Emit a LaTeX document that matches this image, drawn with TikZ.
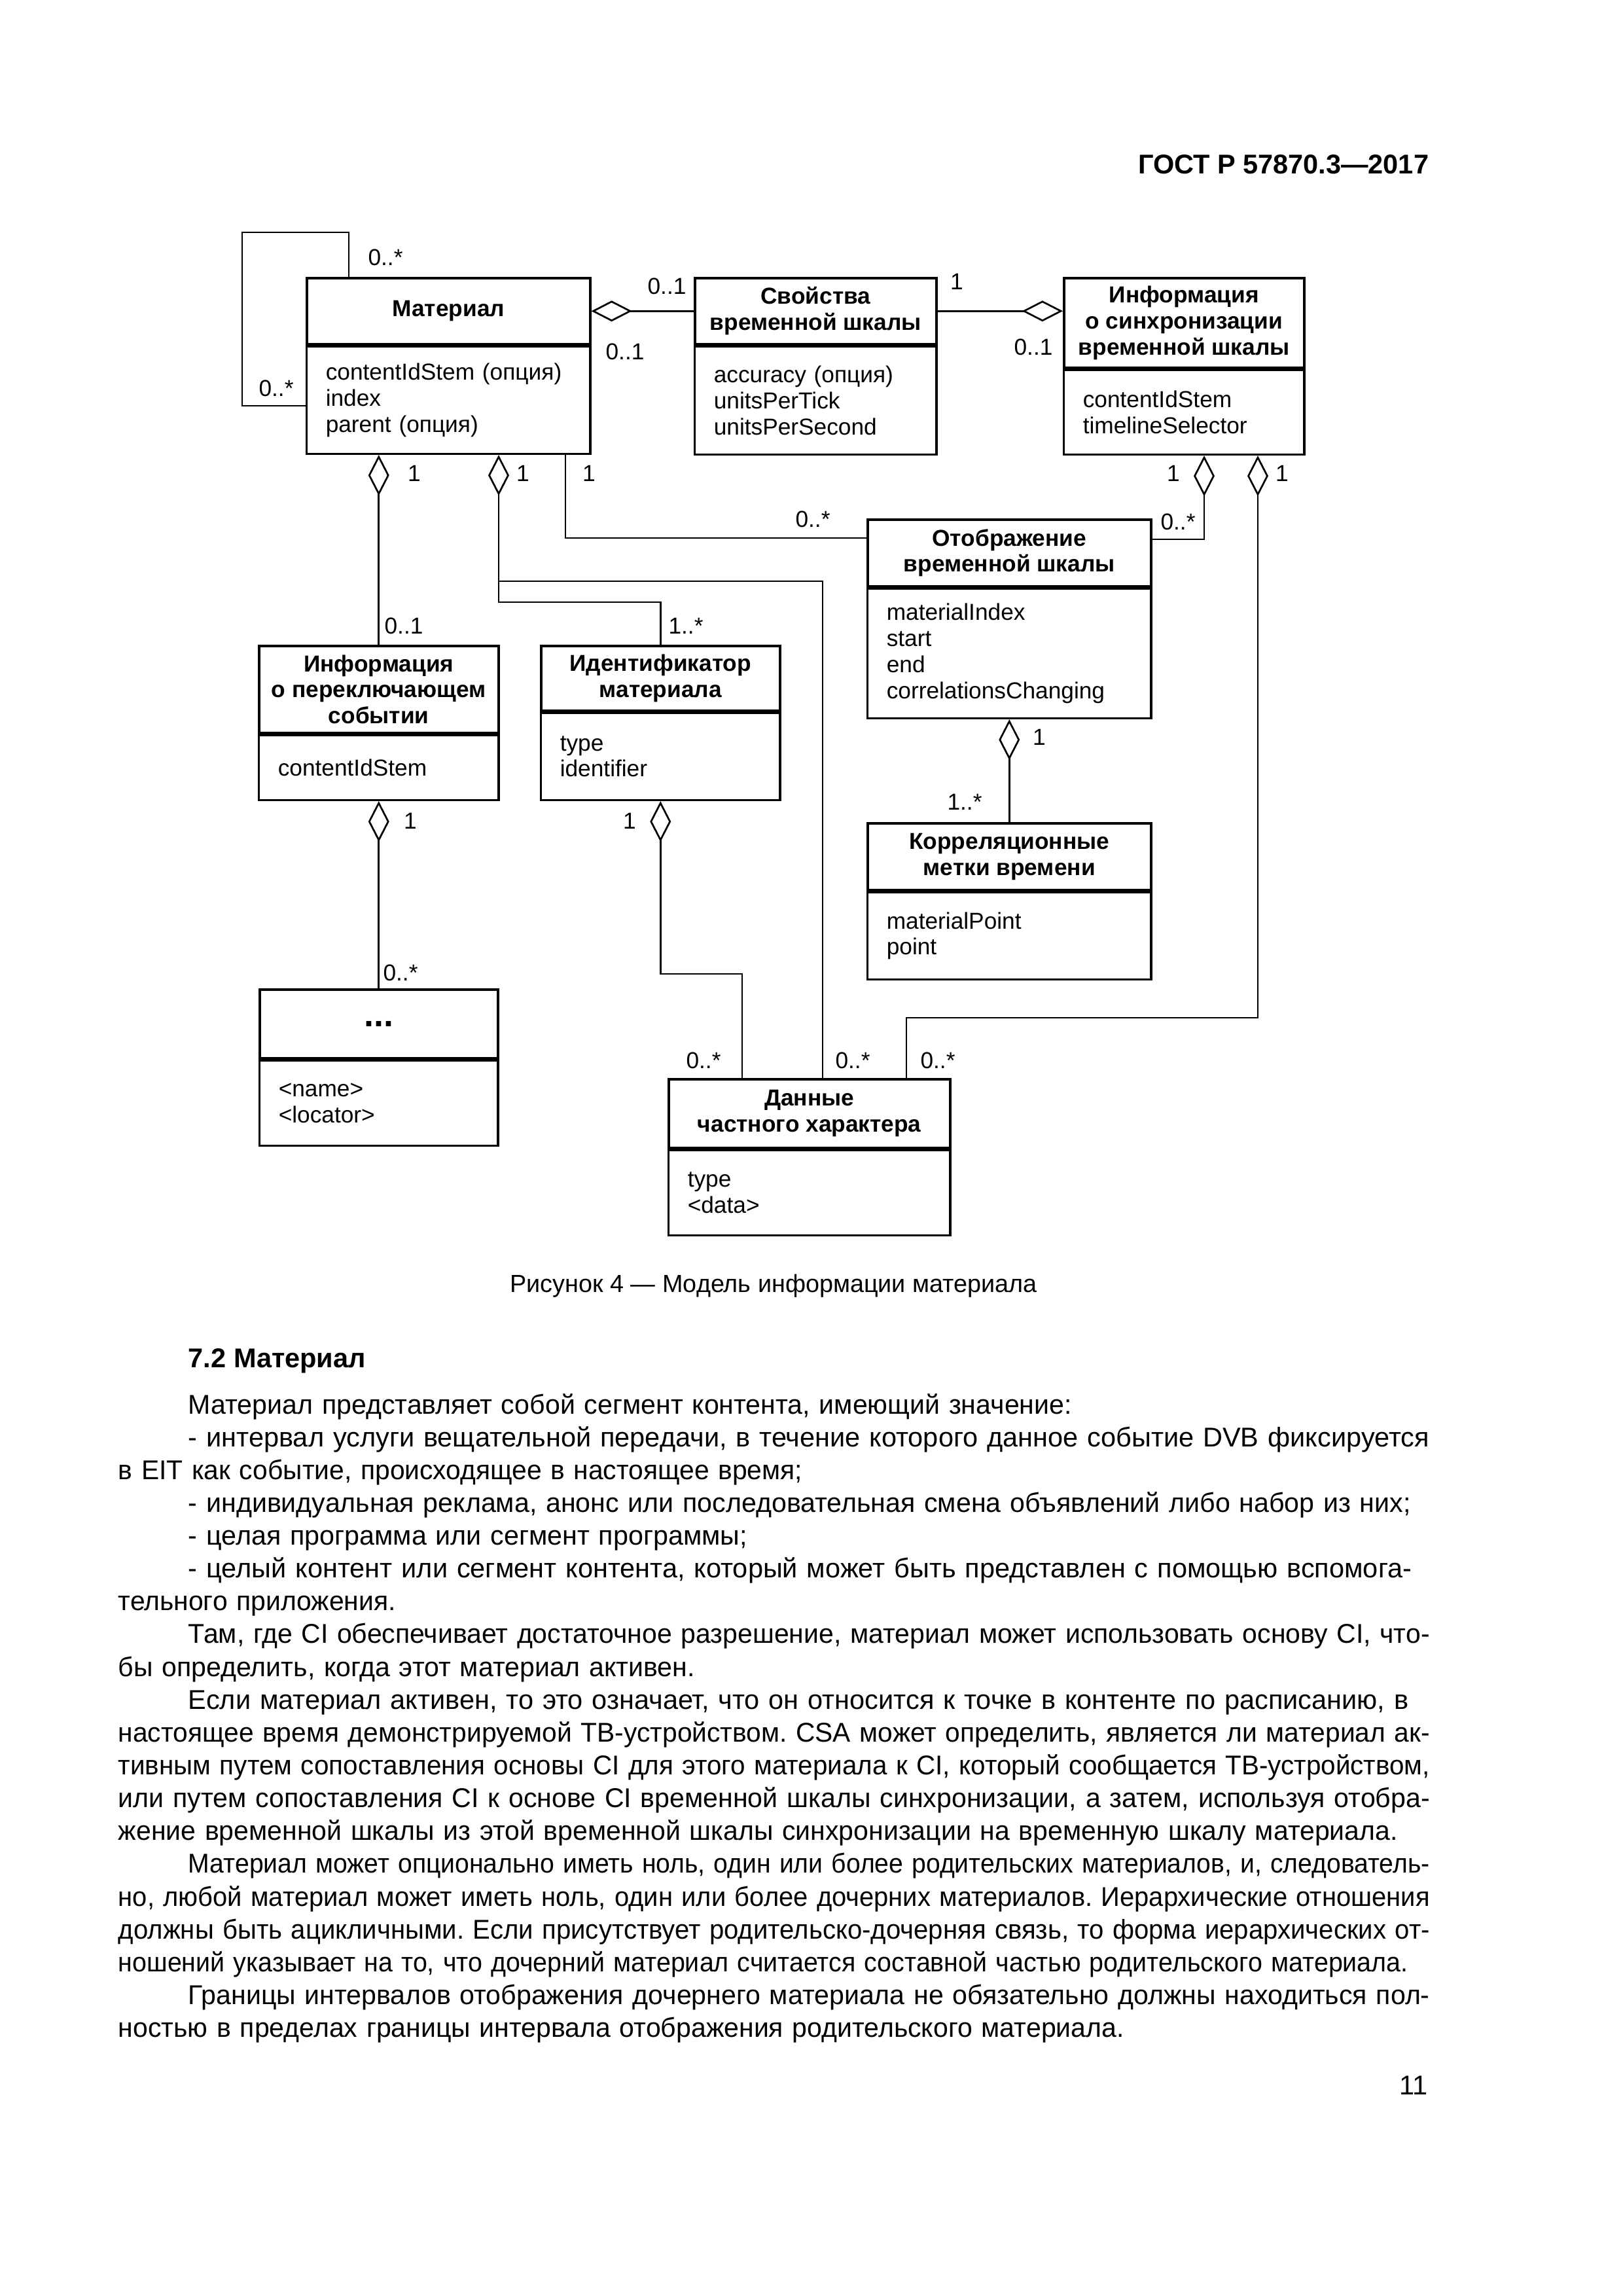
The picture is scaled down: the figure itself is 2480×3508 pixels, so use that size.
\documentclass[tikz,border=0pt]{standalone}
\usepackage{fontspec}
\usepackage{graphicx}
\setmainfont{Liberation Sans}
\usetikzlibrary{arrows.meta,positioning}
\frenchspacing

\newcommand\diafont{\fontsize{8.5}{9.6}\selectfont}
\newcommand\txtfont{\fontsize{10}{12.08}\selectfont}
\newlength\upx \setlength\upx{0.24093pt}
\newlength\bodyw \setlength\bodyw{482.8pt}
\newlength\bodyind \setlength\bodyind{25.8pt}
\newlength\linetarget
\newlength\linenat
\newsavebox\linebox
% one printed line of the body text, brought to the width it has on the page
% #1 indent, #2 right end of the line (px), #3 text
\newcommand\settline[3]{%
  \setlength\linetarget{\dimexpr\upx*\numexpr#2-180\relax-#1\relax}%
  \sbox\linebox{#3}\setlength\linenat{\wd\linebox}%
  \ifdim\linenat>\linetarget
    \pgfmathsetmacro\lineratio{\linetarget/\linenat}%
    \hbox to\bodyw{\hskip#1\scalebox{\lineratio}[1]{\usebox\linebox}\hss}%
  \else
    \hbox to\bodyw{\hskip#1\hbox to\linetarget{#3}\hss}%
  \fi\par}
\newcommand\tfirst{\settline{\bodyind}}
\newcommand\tline{\settline{0pt}}

\tikzset{
  clshead/.style 2 args={draw, line width=0.85pt, inner sep=0pt, anchor=north west,
    minimum width=#1*0.24093pt, minimum height=#2*0.24093pt,
    align=center, font=\diafont\bfseries},
  clsattr/.style 2 args={draw, line width=0.85pt, inner ysep=0pt, inner xsep=7pt,
    text width=(#1-58)*0.24093pt, minimum width=#1*0.24093pt,
    minimum height=#2*0.24093pt, align=left, font=\diafont},
  mult/.style={font=\diafont, inner sep=0pt},
  assoc/.style={line width=0.65pt},
  agg/.style={assoc, -{Diamond[open, length=15pt, width=7.7pt]}},
  pagetext/.style={inner sep=0pt, font=\txtfont},
}

\begin{document}
\begin{tikzpicture}[x=0.24093pt, y=-0.24093pt]
  \fill[white] (0,0) rectangle (2480,3508);
  \useasboundingbox (0,0) rectangle (2480,3508);

  \node[pagetext, font=\fontsize{10}{12}\selectfont\bfseries, anchor=base east] (gost)
    at (2184,265) {ГОСТ Р 57870.3—2017};

  % classes
  \node[clshead={433}{101}] (mat) at (467,423) {Материал};
  \node[clsattr={433}{164}, below=0pt of mat] (matA)
    {contentIdStem (опция)\\index\\parent (опция)};
  \node[clshead={369}{101}] (tsp) at (1060,423) {Свойства\\временной шкалы};
  \node[clsattr={369}{165}, below=0pt of tsp] (tspA)
    {accuracy (опция)\\unitsPerTick\\unitsPerSecond};
  \node[clshead={367}{137}] (tsi) at (1624,423)
    {Информация\\о синхронизации\\временной шкалы};
  \node[clsattr={367}{129}, below=0pt of tsi] (tsiA) {contentIdStem\\timelineSelector};
  \node[clshead={433}{102}] (tlm) at (1324,792) {Отображение\\временной шкалы};
  \node[clsattr={433}{198}, below=0pt of tlm] (tlmA)
    {materialIndex\\start\\end\\correlationsChanging};
  \node[clshead={433}{102}] (cts) at (1324,1256) {Корреляционные\\метки времени};
  \node[clsattr={433}{133}, below=0pt of cts] (ctsA) {materialPoint\\point};
  \node[clshead={366}{133}] (sei) at (394,985) {Информация\\о переключающем\\событии};
  \node[clsattr={366}{99}, below=0pt of sei] (seiA) {contentIdStem};
  \node[clshead={365}{99}] (mid) at (825,985) {Идентификатор\\материала};
  \node[clsattr={365}{133}, below=0pt of mid] (midA) {type\\identifier};
  \node[clshead={364}{105}, font=\fontsize{13}{13}\selectfont\bfseries] (ext)
    at (395,1510) {...};
  \node[clsattr={364}{130}, below=0pt of ext] (extA) {<name>\\<locator>};
  \node[clshead={430}{105}] (prv) at (1020,1647) {Данные\\частного характера};
  \node[clsattr={430}{130}, below=0pt of prv] (prvA) {type\\<data>};

  % bend points
  \coordinate (la) at (533,355);
  \coordinate (lb) at (370,620);
  \coordinate (jm) at (762,920);
  \coordinate (jb) at (1257,888);
  \coordinate (jt) at (864,822);
  \coordinate (js) at (1840,824);
  \coordinate (jq) at (1385,1555);
  \coordinate (jp) at (1922,1555);
  \coordinate (jd) at (1134,1488);

  % associations
  \draw[assoc] (la |- mat.north) -- (la) -| (lb) -- (lb -| matA.west);
  \draw[agg] (tsp.west) -- (mat.east);
  \draw[agg] (tsp.east) -- (tsp.east -| tsi.west);
  \draw[agg] (sei.north) -- (sei.north |- matA.south);
  \draw[agg] (mid.north) |- (jm) -- (jm |- matA.south);
  \draw[assoc] (jb |- prv.north) -- (jb) -- (jb -| jm);
  \draw[assoc] (jt |- matA.south) -- (jt) -- (jt -| tlm.west);
  \draw[agg] (tlm.east |- js) -- (js) -- (js |- tsiA.south);
  \draw[agg] (jq |- prv.north) -- (jq) -- (jp) -- (jp |- tsiA.south);
  \draw[agg] (cts.north) -- (cts.north |- tlmA.south);
  \draw[agg] (ext.north) -- (ext.north |- seiA.south);
  \draw[agg] (jd |- prv.north) -- (jd) -| (midA.south);

  % multiplicities
  \node[mult] (mLoopT) at (589,393) {0..*};
  \node[mult] (mLoopL) at (422,593) {0..*};
  \node[mult] (mTspL) at (1019,437) {0..1};
  \node[mult] (mMatR) at (955,537) {0..1};
  \node[mult] (mTspR) at (1462,430) {1};
  \node[mult] (mTsiL) at (1579,530) {0..1};
  \node[mult] (mMatS) at (633,723) {1};
  \node[mult] (mSei) at (617,956) {0..1};
  \node[mult] (mMatM) at (799,723) {1};
  \node[mult] (mMid) at (1048,956) {1..*};
  \node[mult] (mMatT) at (900,723) {1};
  \node[mult] (mTlmL) at (1242,793) {0..*};
  \node[mult] (mTsiT) at (1793,723) {1};
  \node[mult] (mTlmR) at (1800,797) {0..*};
  \node[mult] (mTsiP) at (1959,723) {1};
  \node[mult] (mPrvR) at (1433,1620) {0..*};
  \node[mult] (mPrvM) at (1303,1620) {0..*};
  \node[mult] (mTlmC) at (1588,1126) {1};
  \node[mult] (mCts) at (1474,1225) {1..*};
  \node[mult] (mSeiE) at (627,1254) {1};
  \node[mult] (mExt) at (612,1486) {0..*};
  \node[mult] (mMidP) at (962,1254) {1};
  \node[mult] (mPrvL) at (1075,1620) {0..*};

  \node[pagetext, font=\fontsize{9.1}{11}\selectfont, anchor=base] (caption)
    at (1182,1974) {Рисунок 4 — Модель информации материала};

  % section text
  \node[pagetext, font=\txtfont\bfseries, anchor=base west] (sect) at (287,2089)
    {7.2 Материал};
  \node[pagetext, text width=\bodyw, anchor=base west] (body) at (180,2160) {%
    \tfirst{1637}{Материал представляет собой сегмент контента, имеющий значение:}%
    \tfirst{2184}{- интервал услуги вещательной передачи, в течение которого данное событие DVB фиксируется}%
    \tline{1225}{в EIT как событие, происходящее в настоящее время;}%
    \tfirst{2155}{- индивидуальная реклама, анонс или последовательная смена объявлений либо набор из них;}%
    \tfirst{1141}{- целая программа или сегмент программы;}%
    \tfirst{2184}{- целый контент или сегмент контента, который может быть представлен с помощью вспомога-}%
    \tline{604}{тельного приложения.}%
    \tfirst{2184}{Там, где CI обеспечивает достаточное разрешение, материал может использовать основу CI, что-}%
    \tline{1061}{бы определить, когда этот материал активен.}%
    \tfirst{2184}{Если материал активен, то это означает, что он относится к точке в контенте по расписанию, в}%
    \tline{2184}{настоящее время демонстрируемой ТВ-устройством. CSA может определить, является ли материал ак-}%
    \tline{2184}{тивным путем сопоставления основы CI для этого материала к CI, который сообщается ТВ-устройством,}%
    \tline{2184}{или путем сопоставления CI к основе CI временной шкалы синхронизации, а затем, используя отобра-}%
    \tline{2135}{жение временной шкалы из этой временной шкалы синхронизации на временную шкалу материала.}%
    \tfirst{2184}{Материал может опционально иметь ноль, один или более родительских материалов, и, следователь-}%
    \tline{2184}{но, любой материал может иметь ноль, один или более дочерних материалов. Иерархические отношения}%
    \tline{2184}{должны быть ацикличными. Если присутствует родительско-дочерняя связь, то форма иерархических от-}%
    \tline{2151}{ношений указывает на то, что дочерний материал считается составной частью родительского материала.}%
    \tfirst{2184}{Границы интервалов отображения дочернего материала не обязательно должны находиться пол-}%
    \tline{1717}{ностью в пределах границы интервала отображения родительского материала.}};
  \node[pagetext, anchor=base east] (pageno) at (2182,3200) {11};
\end{tikzpicture}
\end{document}
